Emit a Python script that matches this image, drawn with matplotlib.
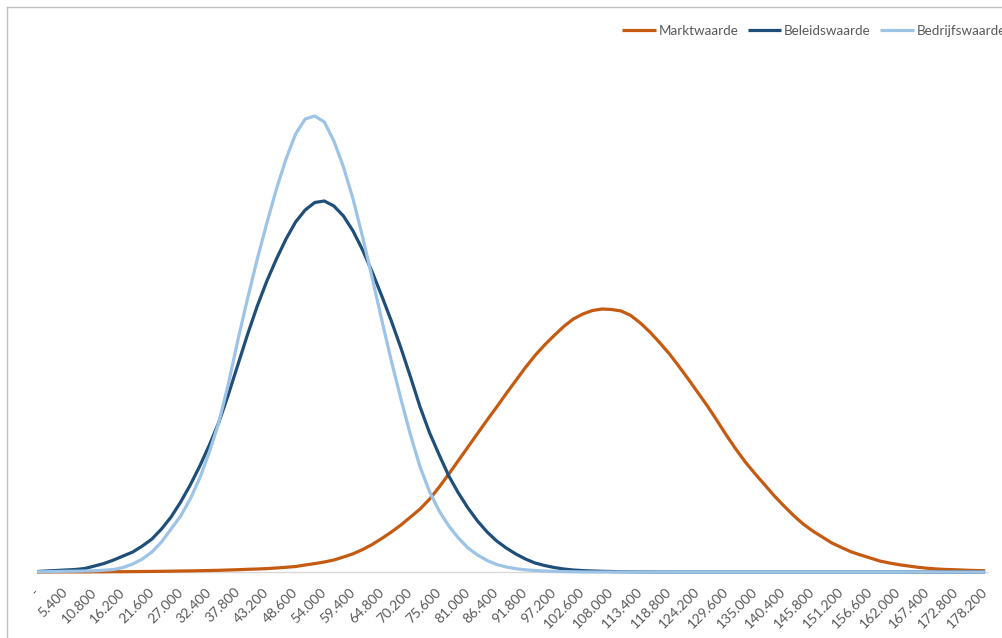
import matplotlib
matplotlib.use("Agg")
import matplotlib.pyplot as plt
from matplotlib.lines import Line2D

plt.rcParams['font.family'] = ['Lato', 'DejaVu Sans']

# categories: 0 .. 178.200 in steps of 1.800
categories = list(range(0, 178201, 1800))
tick_labels = ["-", "5.400", "10.800", "16.200", "21.600", "27.000", "32.400", "37.800",
               "43.200", "48.600", "54.000", "59.400", "64.800", "70.200", "75.600",
               "81.000", "86.400", "91.800", "97.200", "102.600", "108.000", "113.400",
               "118.800", "124.200", "129.600", "135.000", "140.400", "145.800",
               "151.200", "156.600", "162.000", "167.400", "172.800", "178.200"]

# heights (arbitrary units, no y scale shown)
markt = [0.0, 0.0, 0.1, 0.1, 0.1, 0.1, 0.2, 0.2, 0.3, 0.3,
         0.4, 0.5, 0.6, 0.7, 0.8, 1.0, 1.1, 1.3, 1.5, 1.7,
         2.0, 2.3, 2.7, 3.0, 3.4, 4.0, 4.7, 5.5, 7.0, 8.4,
         10, 12, 15, 18.2, 22.5, 27.5, 33.5, 40, 47, 55,
         63, 73, 85, 98, 111.5, 125, 138.5, 152, 165, 178.5,
         191.5, 204.5, 216.5, 227, 236.5, 245.5, 253, 258, 261.5, 263,
         262.5, 261, 256.5, 249, 240, 229.5, 218.5, 206, 193, 179.5,
         166, 151.5, 136.5, 122.5, 109.5, 98, 87, 76, 66, 56.5,
         48, 41, 35, 29, 24.5, 20.2, 17, 14, 11, 9,
         7.3, 6, 4.7, 3.7, 3, 2.5, 2.2, 1.8, 1.5, 1.2]

beleid = [0.5, 1, 1.5, 2, 2.5, 3.5, 6, 8.5, 12, 16,
          20, 26, 33, 43, 55, 70, 87, 106, 127, 150,
          178, 208, 238, 266, 291, 313, 333, 350, 362, 369.5,
          371, 366, 356, 341, 322, 300, 276, 251, 224, 195,
          165, 139, 117, 96, 79, 64, 51, 40, 31, 24,
          18, 13, 9, 6.5, 4.5, 3, 2, 1.4, 1, 0.7,
          0.5, 0.3, 0.2, 0.1, 0.1, 0, 0, 0, 0, 0,
          0, 0, 0, 0, 0, 0, 0, 0, 0, 0,
          0, 0, 0, 0, 0, 0, 0, 0, 0, 0,
          0, 0, 0, 0, 0, 0, 0, 0, 0, 0]

bedrijf = [0.3, 0.3, 0.5, 0.7, 0.8, 1.0, 1.2, 1.8, 2.5, 4.5,
           8, 13, 20, 30, 43, 56, 73, 94, 120, 150,
           189, 233, 274, 313, 349, 383, 413, 438, 453, 456,
           450, 431, 405, 373, 335, 294, 252, 211, 173, 137,
           105, 80, 61, 46, 34, 24, 17, 11.5, 7.5, 5,
           3.3, 2.2, 1.5, 1, 0.6, 0.4, 0.2, 0.1, 0, 0,
           0, 0, 0, 0, 0, 0, 0, 0, 0, 0,
           0, 0, 0, 0, 0, 0, 0, 0, 0, 0,
           0, 0, 0, 0, 0, 0, 0, 0, 0, 0,
           0, 0, 0, 0, 0, 0, 0, 0, 0, 0]

series = [("Marktwaarde", markt, "#C55A11"),
          ("Beleidswaarde", beleid, "#1F4E79"),
          ("Bedrijfswaarde", bedrijf, "#9DC3E6")]

W, H = 1002, 638
fig = plt.figure(figsize=(W / 100, H / 100), dpi=100)
ax = fig.add_axes([37 / W, 66 / H, 951 / W, 512 / H])

pos = list(range(len(categories)))
for name, vals, col in series:
    ax.plot(pos, vals, color=col, lw=2.3, label=name, clip_on=False,
            solid_joinstyle="round", solid_capstyle="butt", zorder=3)

ax.set_xlim(0, 99.3)
ax.set_ylim(0, 512)
ax.set_yticks([])
ax.set_xticks(pos[::3])
ax.set_xticklabels(tick_labels)
ax.tick_params(axis="x", length=0, pad=13, labelsize=10, labelcolor="#595959")
plt.setp(ax.get_xticklabels(), rotation=45, ha="right", va="center",
         rotation_mode="anchor")
for s in ["left", "right", "top"]:
    ax.spines[s].set_visible(False)
ax.spines["bottom"].set_color("#D9D9D9")
ax.spines["bottom"].set_linewidth(1)

ax.legend(loc="center left", bbox_to_anchor=(622 / W, 1 - 31 / H),
          bbox_transform=fig.transFigure, ncol=3, frameon=False,
          handlelength=2.5, handletextpad=0.2, columnspacing=0.7,
          borderaxespad=0, borderpad=0, fontsize=9.7, labelcolor="#595959")

# chart area border (left and top edges visible)
fig.add_artist(Line2D([6.5 / W, 6.5 / W], [0, 1 - 6.5 / H], color="#BFBFBF",
                      lw=1, transform=fig.transFigure))
fig.add_artist(Line2D([6.5 / W, 1], [1 - 6.5 / H, 1 - 6.5 / H], color="#BFBFBF",
                      lw=1, transform=fig.transFigure))

fig.savefig("out.png", dpi=100)
